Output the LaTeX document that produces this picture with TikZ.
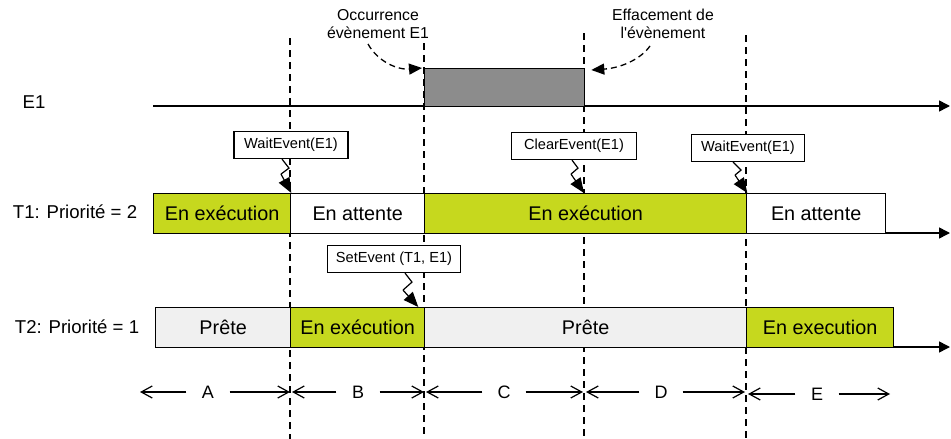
\documentclass[tikz,border=0pt]{standalone}
\usepackage{fontspec}
\setmainfont{Liberation Sans}
\newfontfamily\rawfont{Liberation Sans}
\usetikzlibrary{arrows.meta,calc}
\definecolor{execg}{RGB}{198,216,30}
\definecolor{readyg}{RGB}{240,240,240}
\definecolor{evtg}{RGB}{140,140,140}
\begin{document}
\begin{tikzpicture}[x=1pt,y=-1pt,line width=1.3pt,
  bar/.style={draw, minimum height=40pt, inner sep=0pt, anchor=north west, font=\fontsize{19.8}{23}\selectfont},
  execbox/.style={bar, fill=execg},
  waitbox/.style={bar, fill=white},
  readybox/.style={bar, fill=readyg},
  callout/.style={draw, fill=white, minimum height=27pt, inner sep=0pt, line width=1.2pt, font=\fontsize{14.6}{16}\selectfont},
  rowlabel/.style={font=\fontsize{18.6}{21}\selectfont, inner sep=0pt},
  note/.style={font=\fontsize{15.8}{18.5}\selectfont, align=center, inner sep=0pt},
  span/.style={font=\fontsize{18}{21}\selectfont, minimum width=42pt, inner sep=0pt},
  sep/.style={dash pattern=on 7pt off 5pt, line width=1.3pt},
  axis/.style={-{Triangle[length=11pt,width=11pt]}, line width=1.5pt},
  zig/.style={line width=1.2pt},
  zighead/.style={-{Triangle[length=15pt,width=12pt]}, line width=1.2pt},
  curvy/.style={dash pattern=on 6pt off 4pt, line width=1.3pt, -{Triangle[length=13pt,width=11pt]}},
  spanarrow/.style={-{Straight Barb[length=11pt,width=12pt]}, line width=1.2pt}
]
\useasboundingbox (0,0) rectangle (951,439);

% vertical separators
\coordinate (s1t) at (290,38);  \coordinate (s1b) at (290,439);
\coordinate (s2t) at (424,43);  \coordinate (s2b) at (424,439);
\coordinate (s3t) at (584,33);  \coordinate (s3b) at (584,439);
\coordinate (s4t) at (746,35);  \coordinate (s4b) at (746,439);
\draw[sep] (s1t) -- (s1b);
\draw[sep] (s2t) -- (s2b);
\draw[sep] (s3t) -- (s3b);
\draw[sep] (s4t) -- (s4b);

% row labels
\node[rowlabel] (le1) at (34,102) {E1};
\node[rowlabel] (lt1) at (75,212) {T1: Priorité = 2};
\node[rowlabel] (lt2) at (77,327) {T2: Priorité = 1};

% E1 row
\coordinate (e1s) at (153,106);
\coordinate (e1e) at (950,106);
\draw[axis] (e1s) -- (e1e);
\node[draw, fill=evtg, minimum width=160pt, minimum height=38pt, inner sep=0pt, anchor=north west] (ev) at (424,68) {};

% T1 row
\coordinate (t1s) at (153,233);
\coordinate (t1e) at (950,233);
\draw[axis] (t1s) -- (t1e);
\node[execbox, minimum width=137pt] (t1a) at (153,193) {En exécution};
\node[waitbox, minimum width=134pt] (t1b) at (290,193) {En attente};
\node[execbox, minimum width=322pt] (t1c) at (424,193) {En exécution};
\node[waitbox, minimum width=139pt] (t1d) at (746,193) {En attente};

% T2 row
\coordinate (t2s) at (155,347);
\coordinate (t2e) at (950,347);
\draw[axis] (t2s) -- (t2e);
\node[readybox, minimum width=135pt] (t2a) at (155,307) {Prête};
\node[execbox, minimum width=134pt] (t2b) at (290,307) {En exécution};
\node[readybox, minimum width=322pt] (t2c) at (424,307) {Prête};
\node[execbox, minimum width=147pt] (t2d) at (746,307) {En execution};

% notes at top
\node[note] (occ) at (378,24) {Occurrence\\évènement E1};
\node[note] (eff) at (663,24) {Effacement de\\{\rawfont l'évènement}};
\draw[curvy] (368,44) .. controls (378,62) and (398,70) .. ($(ev.north west)+(-2,0)$);
\draw[curvy] (650,46) .. controls (640,60) and (620,68) .. ($(ev.north east)+(6,2)$);

% callouts
\node[callout, minimum width=114pt] (w1) at (291,145) {WaitEvent(E1)};
\node[callout, minimum width=125pt] (c1) at (574,146) {ClearEvent(E1)};
\node[callout, minimum width=113pt] (w2) at (748,148) {WaitEvent(E1)};
\node[callout, minimum width=133pt] (se) at (394,259) {SetEvent (T1, E1)};

% zigzag pointers: bent part, then a straight arrowed segment
\coordinate (z1) at ($(w1.south)+(-9,0)$);
\coordinate (z2) at ($(c1.south)+(-2,0)$);
\coordinate (z3) at ($(w2.south)+(-15,0)$);
\coordinate (z4) at ($(se.south)+(11,0)$);
\draw[zig] (z1) -- ++(7,9) -- ++(-8,6) coordinate (z1e);
\draw[zighead] (z1e) -- (t1a.north east);
\draw[zig] (z2) -- ++(6,8) -- ++(-7,6) coordinate (z2e);
\draw[zighead] (z2e) -- ($(t1c.north west)+(160,0)$);
\draw[zig] (z3) -- ++(8,8) -- ++(-6,5) coordinate (z3e);
\draw[zighead] (z3e) -- (t1c.north east);
\draw[zig] (z4) -- ++(7,9) -- ++(-9,8) coordinate (z4e);
\draw[zighead] (z4e) -- ($(t2b.north east)+(-7,0)$);

% span labels
\node[span] (ia) at (208,392) {A};
\node[span] (ib) at (358,392) {B};
\node[span] (ic) at (504,392) {C};
\node[span] (id) at (661,392) {D};
\node[span] (ie) at (817,394) {E};
\coordinate (aL) at (140,392); \coordinate (aR) at (290,392);
\coordinate (bL) at (292,392); \coordinate (bR) at (424,392);
\coordinate (cL) at (426,392); \coordinate (cR) at (583,392);
\coordinate (dL) at (586,392); \coordinate (dR) at (745,392);
\coordinate (eL) at (748,394); \coordinate (eR) at (890,394);
\draw[spanarrow] (ia.west) -- (aL);
\draw[spanarrow] (ia.east) -- (aR);
\draw[spanarrow] (ib.west) -- (bL);
\draw[spanarrow] (ib.east) -- (bR);
\draw[spanarrow] (ic.west) -- (cL);
\draw[spanarrow] (ic.east) -- (cR);
\draw[spanarrow] (id.west) -- (dL);
\draw[spanarrow] (id.east) -- (dR);
\draw[spanarrow] (ie.west) -- (eL);
\draw[spanarrow] (ie.east) -- (eR);
\end{tikzpicture}
\end{document}
